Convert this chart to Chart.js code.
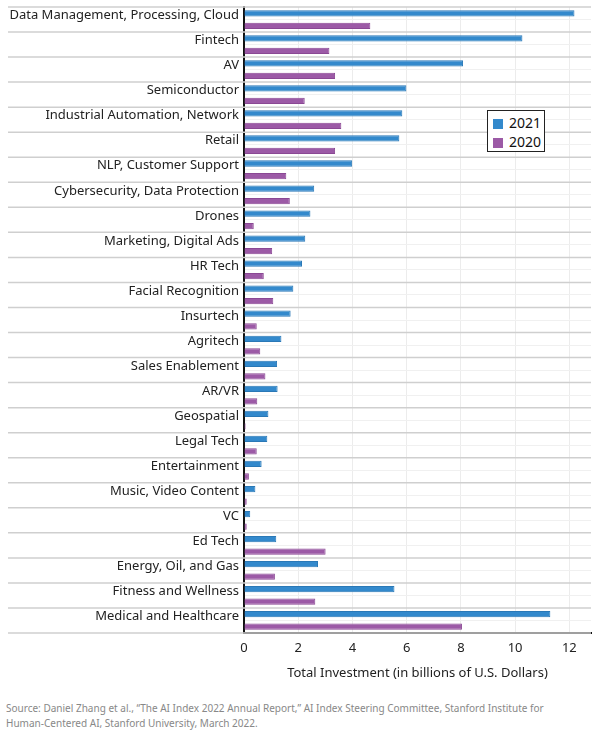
<!DOCTYPE html>
<html lang="en">
<head>
  <meta charset="UTF-8">
  <title>AI Investment by Focus Area, 2020 vs 2021</title>
  <script src="https://cdn.jsdelivr.net/npm/chart.js"></script>
  <style>
    body { margin: 0; background: #fff; font-family: 'Noto Sans', sans-serif; }
    .wrap { position: relative; width: 600px; height: 690px; }
    .legend {
      position: absolute; left: 487px; top: 110px; width: 56px; height: 38px;
      border: 1.5px solid #222; background: #fff; padding: 2px 0 0 0;
      font-size: 14px; color: #111; line-height: 19px;
    }
    .legend span.sw { display: inline-block; width: 10px; height: 10px; margin: 0 6px 0 5px; vertical-align: -1px; }
    .source {
      margin: 10px 0 0 6px; font-family: 'Noto Sans', sans-serif;
      font-size: 11px; color: #888; line-height: 15px; white-space: nowrap;
      transform: scaleX(0.91); transform-origin: left top;
    }
  </style>
</head>
<body>
  <div class="wrap">
    <canvas id="chart" width="600" height="690"></canvas>
    <div class="legend">
      <div><span class="sw" style="background:#3389cc"></span>2021</div>
      <div><span class="sw" style="background:#9c5aa6"></span>2020</div>
    </div>
  </div>
  <div class="source">Source: Daniel Zhang et al., “The AI Index 2022 Annual Report,” AI Index Steering Committee, Stanford Institute for<br>Human-Centered AI, Stanford University, March 2022.</div>
  <script>
    // Focus areas, top to bottom
    const categories = [
      'Data Management, Processing, Cloud', 'Fintech', 'AV', 'Semiconductor',
      'Industrial Automation, Network', 'Retail', 'NLP, Customer Support',
      'Cybersecurity, Data Protection', 'Drones', 'Marketing, Digital Ads', 'HR Tech',
      'Facial Recognition', 'Insurtech', 'Agritech', 'Sales Enablement', 'AR/VR',
      'Geospatial', 'Legal Tech', 'Entertainment', 'Music, Video Content', 'VC',
      'Ed Tech', 'Energy, Oil, and Gas', 'Fitness and Wellness', 'Medical and Healthcare'
    ];

    // Total investment, billions of U.S. dollars
    const inv2021 = [12.19, 10.27, 8.08, 5.99, 5.84, 5.73, 3.99, 2.59, 2.45, 2.26, 2.14, 1.82, 1.72,
                     1.38, 1.22, 1.24, 0.90, 0.86, 0.65, 0.42, 0.23, 1.19, 2.73, 5.55, 11.30];
    const inv2020 = [4.66, 3.15, 3.36, 2.24, 3.59, 3.36, 1.56, 1.69, 0.36, 1.04, 0.73, 1.08, 0.47,
                     0.60, 0.79, 0.49, 0.06, 0.47, 0.18, 0.10, 0.10, 3.01, 1.14, 2.63, 8.04];

    const xTicks = [0, 2, 4, 6, 8, 10, 12];

    // grey separators between categories, running under the labels too
    const separators = {
      id: 'separators',
      beforeDatasetsDraw(chart) {
        const y = chart.scales.y;
        const area = chart.chartArea;
        const step = y.getPixelForValue(1) - y.getPixelForValue(0);
        const ctx = chart.ctx;
        ctx.save();
        ctx.strokeStyle = '#cfcfcf';
        ctx.lineWidth = 1.5;
        for (let i = 0; i <= categories.length; i++) {
          const py = y.getPixelForValue(i) - step / 2;
          ctx.beginPath();
          ctx.moveTo(8, py);
          ctx.lineTo(area.right, py);
          ctx.stroke();
        }
        ctx.restore();
      }
    };

    const ctx = document.getElementById('chart').getContext('2d');
    new Chart(ctx, {
      type: 'bar',
      data: {
        labels: categories,
        datasets: [
          { label: '2021', data: inv2021, backgroundColor: '#3389cc', borderColor: '#2a78b6', borderWidth: 1 },
          { label: '2020', data: inv2020, backgroundColor: '#9c5aa6', borderColor: '#8a4894', borderWidth: 1 }
        ]
      },
      plugins: [separators],
      options: {
        indexAxis: 'y',
        responsive: false,
        animation: false,
        categoryPercentage: 1.0,
        barPercentage: 0.5,
        layout: { padding: { top: 7, right: 9, left: 0, bottom: 0 } },
        plugins: { legend: { display: false }, tooltip: { enabled: false } },
        scales: {
          x: {
            min: 0, max: 12.8,
            afterFit: s => { s.height = 57; s.paddingLeft = 0; s.paddingRight = 0; },
            afterBuildTicks: s => { s.ticks = xTicks.map(v => ({ value: v })); },
            ticks: { color: '#222', font: { family: 'Noto Sans', size: 13 }, padding: 7 },
            grid: { color: ctx => ctx.tick.value === 0 ? 'rgba(0,0,0,0)' : '#ececec', drawTicks: false },
            border: { color: '#111', width: 2 },
            title: {
              display: true, text: 'Total Investment (in billions of U.S. Dollars)',
              color: '#222', font: { family: 'Noto Sans', size: 13 }, padding: { top: 0, bottom: 9 }
            }
          },
          y: {
            afterFit: s => { s.width = 244; s.paddingTop = 0; s.paddingBottom = 0; },
            ticks: { color: '#222', font: { family: 'Noto Sans', size: 13 }, padding: 5, labelOffset: -4 },
            grid: { offset: false, color: '#f0f0f0', drawTicks: false },
            border: { color: '#111', width: 2 }
          }
        }
      }
    });
  </script>
</body>
</html>
